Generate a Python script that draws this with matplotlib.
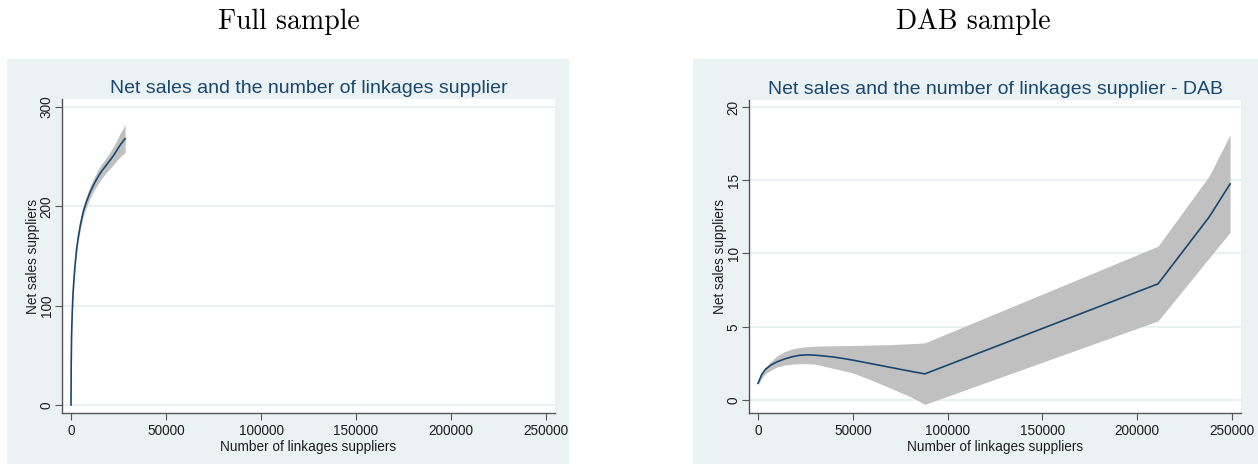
import numpy as np
import matplotlib
matplotlib.use('Agg')
import matplotlib.pyplot as plt
from matplotlib.patches import Rectangle

# ── Datos: ajuste fraccional-polinomial con IC 95% ───────────────────────────

# Muestra completa
full_x     = [0, 100, 300, 600, 1000, 1500, 2000, 3000, 4000, 5000, 6500, 8000,
              10000, 12000, 14000, 16000, 18000, 20000, 22000, 24000, 26000, 28500]
full_fit   = [0, 40, 70, 90, 110, 125, 138, 158, 171, 182, 195, 204,
              214, 222, 229, 235, 240, 245, 250, 256, 262, 268]
full_lower = [0, 39, 68.5, 88, 107.5, 122, 135, 154.5, 167, 177.5, 190, 198.5,
              208, 215.5, 222, 227.5, 232.5, 237, 241, 246, 250, 254]
full_upper = [0, 41, 71.5, 92, 112.5, 128, 141, 161.5, 175, 186.5, 200, 209.5,
              220, 228.5, 236, 242.5, 247.5, 253, 259, 266, 274, 282]

# Muestra DAB
dab_x     = [0, 2000, 4000, 7000, 10000, 14000, 18000, 22000, 26000, 30000, 35000,
             40000, 45000, 50000, 60000, 70000, 80000, 88000, 211000, 238000, 249000]
dab_fit   = [1.14, 1.75, 2.1, 2.4, 2.6, 2.8, 2.95, 3.05, 3.08, 3.06, 3.0,
             2.93, 2.83, 2.72, 2.47, 2.22, 1.97, 1.78, 7.93, 12.5, 14.75]
dab_lower = [1.03, 1.5, 1.8, 2.05, 2.25, 2.38, 2.45, 2.48, 2.48, 2.45, 2.3,
             2.15, 2.0, 1.85, 1.35, 0.8, 0.25, -0.3, 5.4, 9.7, 11.45]
dab_upper = [1.26, 1.85, 2.25, 2.65, 3.0, 3.3, 3.48, 3.58, 3.64, 3.67, 3.69,
             3.7, 3.71, 3.72, 3.75, 3.78, 3.84, 3.9, 10.5, 15.3, 18.1]

x_ticks      = [0, 50000, 100000, 150000, 200000, 250000]
full_y_ticks = [0, 100, 200, 300]
dab_y_ticks  = [0, 5, 10, 15, 20]

# ── Estilo tipo Stata s2color ─────────────────────────────────────────────────

BG     = '#eaf2f3'
GRID   = '#e4edf0'
LINE   = '#1a476f'
BAND   = '#c0c0c0'
AXCOL  = '#555555'
TITLE  = '#1a476f'
TXT    = '#1e1e1e'
SANS   = 'Liberation Sans'

W, H = 1258, 468
fig = plt.figure(figsize=(W / 100, H / 100), dpi=100)


def px_box(x0, y0, x1, y1):
    # caja en pixeles (origen arriba-izquierda) -> coords de figura
    return [x0 / W, 1 - y1 / H, (x1 - x0) / W, (y1 - y0) / H]


def panel(box, plot, xlim, ylim, x, fit, lo, hi, yticks, title):
    l, b, w, h = px_box(*box)
    fig.patches.append(Rectangle((l, b), w, h, transform=fig.transFigure,
                                 facecolor=BG, edgecolor='none', zorder=-5))
    ax = fig.add_axes(px_box(*plot))
    ax.set_zorder(1)
    ax.set_facecolor('white')
    ax.fill_between(x, lo, hi, color=BAND, linewidth=0, zorder=2)
    ax.plot(x, fit, color=LINE, linewidth=1.2, zorder=3)
    ax.set_xlim(*xlim)
    ax.set_ylim(*ylim)
    ax.set_xticks(x_ticks)
    ax.set_yticks(yticks)
    ax.set_xticklabels([str(t) for t in x_ticks], fontsize=9.8, family=SANS)
    ax.set_yticklabels([str(t) for t in yticks], fontsize=9.8, family=SANS,
                       rotation=90, va='center')
    ax.tick_params(colors=TXT, length=5, width=0.8, color=AXCOL)
    ax.tick_params(axis='x', pad=3)
    ax.tick_params(axis='y', pad=1)
    ax.yaxis.grid(True, color=GRID, linewidth=1.2)
    ax.set_axisbelow(True)
    for s in ['top', 'right']:
        ax.spines[s].set_visible(False)
    for s in ['left', 'bottom']:
        ax.spines[s].set_color(AXCOL)
        ax.spines[s].set_linewidth(1.0)
    ax.set_xlabel('Number of linkages suppliers', fontsize=9.8, family=SANS,
                  color=TXT, labelpad=1)
    ax.set_ylabel('Net sales suppliers', fontsize=9.8, family=SANS,
                  color=TXT, labelpad=0)
    ax.set_title(title, fontsize=14, family=SANS, color=TITLE, pad=4)
    return ax


panel((7, 59, 569, 464), (62, 99, 555, 413), (-4740, 254740), (-8.06, 308),
      full_x, full_fit, full_lower, full_upper, full_y_ticks,
      'Net sales and the number of linkages supplier')
panel((693, 59, 1258, 464), (749, 100, 1241, 413), (-4750, 254750), (-0.89, 20.48),
      dab_x, dab_fit, dab_lower, dab_upper, dab_y_ticks,
      'Net sales and the number of linkages supplier - DAB')

fig.text(289 / W, 1 - 22 / H, 'Full sample', fontsize=20, family='cmr10',
         ha='center', va='center')
fig.text(973 / W, 1 - 22 / H, 'DAB sample', fontsize=20, family='cmr10',
         ha='center', va='center')

fig.savefig('out.png', dpi=100, facecolor='white')
